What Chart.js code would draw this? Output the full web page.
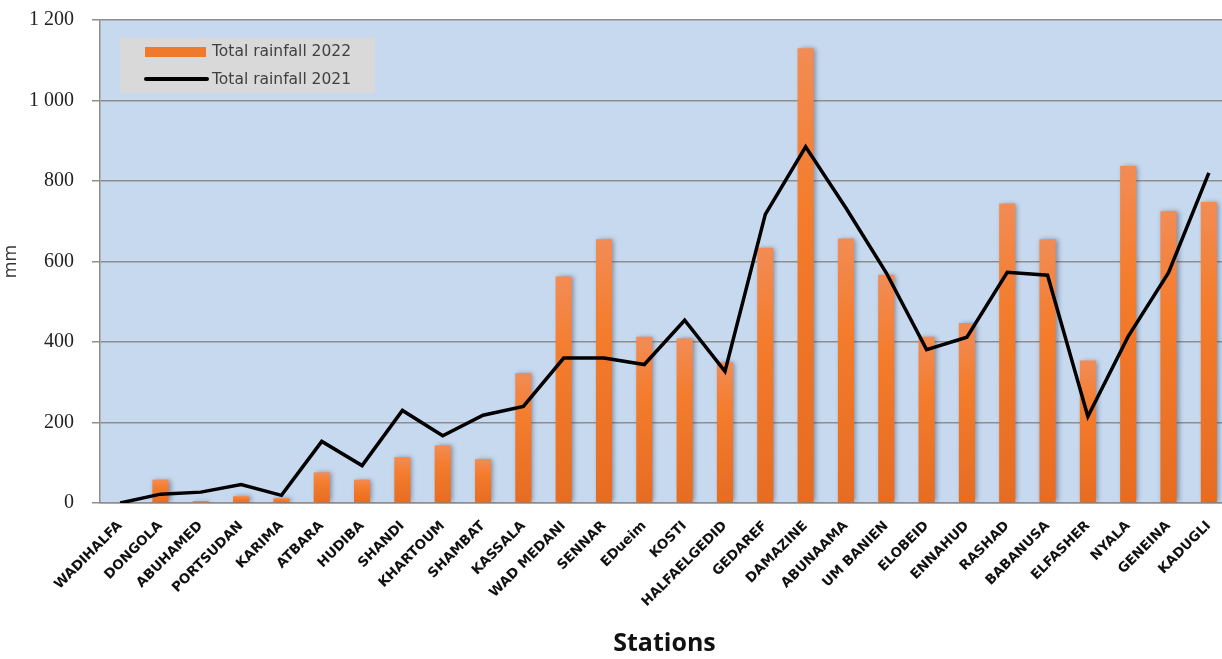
<!DOCTYPE html>
<html>
<head>
<meta charset="utf-8">
<script src="https://cdn.jsdelivr.net/npm/chart.js@4"></script>
<style>
    html, body { margin: 0; padding: 0; background: #fff; overflow: hidden; }
    #wrap { position: relative; width: 1229px; height: 659px; }
</style>
</head>
<body>
<div id="wrap"><canvas id="rainChart"></canvas></div>
<script>
const stations = ['WADIHALFA', 'DONGOLA', 'ABUHAMED', 'PORTSUDAN', 'KARIMA', 'ATBARA', 'HUDIBA', 'SHANDI',
    'KHARTOUM', 'SHAMBAT', 'KASSALA', 'WAD MEDANI', 'SENNAR', 'EDueim', 'KOSTI', 'HALFAELGEDID',
    'GEDAREF', 'DAMAZINE', 'ABUNAAMA', 'UM BANIEN', 'ELOBEID', 'ENNAHUD', 'RASHAD', 'BABANUSA',
    'ELFASHER', 'NYALA', 'GENEINA', 'KADUGLI'];
const rain2022 = [0, 58, 5, 17, 12, 76, 58, 114, 143, 109, 323, 563, 655, 413, 409, 350,
    634, 1130, 657, 567, 413, 447, 744, 655, 354, 837, 725, 748];
const rain2021 = [0, 22, 27, 46, 19, 153, 93, 230, 167, 218, 240, 360, 360, 344, 454, 327,
    717, 885, 733, 572, 381, 412, 573, 566, 215, 414, 572, 820];
const yTicks = [0, 200, 400, 600, 800, 1000, 1200];

const plotBg = {
    id: 'plotBg',
    beforeDraw(chart) {
        const { ctx, chartArea: a } = chart;
        ctx.save();
        ctx.fillStyle = '#c6d9ef';
        ctx.fillRect(a.left, a.top, a.right - a.left, a.bottom - a.top);
        ctx.restore();
    }
};

const barShadow = {
    id: 'barShadow',
    beforeDatasetDraw(chart, args) {
        if (args.meta.type !== 'bar') return;
        const ctx = chart.ctx;
        ctx.save();
        ctx.shadowColor = 'rgba(40,40,60,0.45)';
        ctx.shadowBlur = 5;
        ctx.shadowOffsetX = 2;
        ctx.shadowOffsetY = 0;
    },
    afterDatasetDraw(chart, args) {
        if (args.meta.type !== 'bar') return;
        chart.ctx.restore();
    }
};

const boxLegend = {
    id: 'boxLegend',
    afterDraw(chart) {
        const ctx = chart.ctx;
        ctx.save();
        ctx.fillStyle = '#d9d9d9';
        ctx.fillRect(120, 38, 255, 55);
        ctx.fillStyle = '#f07a2c';
        ctx.fillRect(145, 47, 61, 10);
        ctx.strokeStyle = '#000';
        ctx.lineWidth = 4;
        ctx.lineCap = 'round';
        ctx.beginPath();
        ctx.moveTo(146, 79);
        ctx.lineTo(207, 79);
        ctx.stroke();
        ctx.fillStyle = '#404040';
        ctx.font = '15.5px "DejaVu Sans", sans-serif';
        ctx.textBaseline = 'middle';
        ctx.fillText(chart.data.datasets[1].label, 212, 52);
        ctx.fillText(chart.data.datasets[0].label, 212, 80);
        ctx.restore();
    }
};

function barFill(context) {
    const chart = context.chart;
    const y = chart.scales.y;
    if (!chart.chartArea || !y || context.parsed == null) return '#f07a2c';
    const top = y.getPixelForValue(context.parsed.y);
    const bottom = y.getPixelForValue(0);
    if (!isFinite(top) || bottom - top < 1) return '#f07a2c';
    const g = chart.ctx.createLinearGradient(0, top, 0, bottom);
    g.addColorStop(0, '#f28c55');
    g.addColorStop(0.35, '#f47c2c');
    g.addColorStop(1, '#e66c22');
    return g;
}

function spaced(v) {
    return String(v).replace(/\B(?=(\d{3})+(?!\d))/g, ' ');
}

new Chart(document.getElementById('rainChart'), {
    data: {
        labels: stations,
        datasets: [
            {
                type: 'line',
                label: 'Total rainfall 2021',
                data: rain2021,
                borderColor: '#000',
                borderWidth: 3.5,
                pointRadius: 0,
                tension: 0,
                order: 0
            },
            {
                type: 'bar',
                label: 'Total rainfall 2022',
                data: rain2022,
                backgroundColor: barFill,
                barPercentage: 0.4,
                categoryPercentage: 1,
                order: 1
            }
        ]
    },
    options: {
        responsive: true,
        maintainAspectRatio: false,
        animation: false,
        layout: { padding: { top: 20, left: 0, right: 0, bottom: 0 } },
        plugins: {
            legend: { display: false },
            tooltip: { enabled: false }
        },
        scales: {
            x: {
                grid: { display: false },
                border: { display: true, color: '#8e8e8e', width: 1.5 },
                ticks: {
                    autoSkip: false,
                    minRotation: 45,
                    maxRotation: 45,
                    padding: 7,
                    color: '#111',
                    font: { family: 'DejaVu Sans, sans-serif', weight: 'bold', size: 13.5 }
                },
                title: {
                    display: true,
                    text: 'Stations',
                    color: '#111',
                    font: { family: 'Open Sans, sans-serif', weight: 'bold', size: 25 },
                    padding: { top: 0, bottom: 0 }
                },
                afterFit: s => { s.height = 156; }
            },
            y: {
                min: 0,
                max: 1200,
                afterBuildTicks: s => { s.ticks = yTicks.map(v => ({ value: v })); },
                grid: { color: '#8e8e8e', lineWidth: 1.5, tickLength: 8 },
                border: { display: true, color: '#8e8e8e', width: 1.5 },
                ticks: {
                    padding: 18,
                    color: '#222',
                    font: { family: 'Liberation Serif, serif', size: 20 },
                    callback: v => spaced(v)
                },
                title: {
                    display: true,
                    text: 'mm',
                    color: '#333',
                    font: { family: 'Open Sans, sans-serif', size: 18 },
                    padding: { top: 0, bottom: 0 }
                },
                afterFit: s => {
                    s.width = 100;
                    s.paddingTop = 0;
                    s.paddingBottom = 0;
                }
            }
        }
    },
    plugins: [plotBg, barShadow, boxLegend]
});
</script>
</body>
</html>
